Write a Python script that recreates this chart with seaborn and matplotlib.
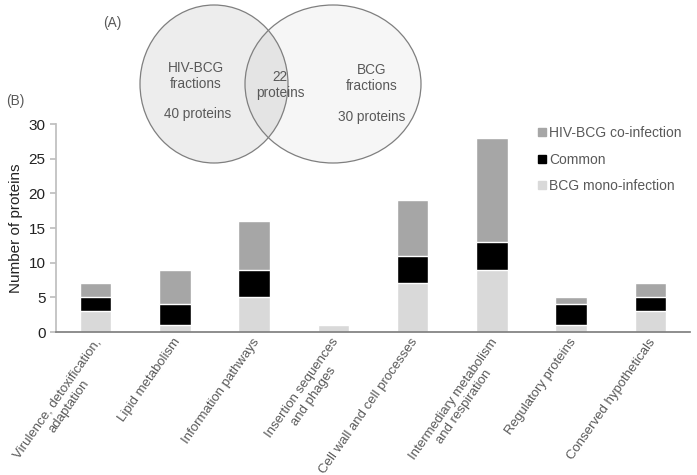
import matplotlib
matplotlib.use("Agg")
import matplotlib.pyplot as plt
import matplotlib.transforms as mtransforms
import seaborn as sns
import numpy as np
import pandas as pd
from matplotlib.patches import Ellipse
from matplotlib.lines import Line2D

categories = ["Virulence, detoxification,\nadaptation", "Lipid metabolism",
              "Information pathways", "Insertion sequences\nand phages",
              "Cell wall and cell processes", "Intermediary metabolism\nand respiration",
              "Regulatory proteins", "Conserved hypotheticals"]
bcg_mono = [3, 1, 5, 1, 7, 9, 1, 3]
common = [2, 3, 4, 0, 4, 4, 3, 2]
hiv_bcg = [2, 5, 7, 0, 8, 15, 1, 2]
series_names = ["HIV-BCG co-infection", "Common", "BCG mono-infection"]
venn_labels = ["HIV-BCG\nfractions", "22\nproteins", "BCG\nfractions"]
venn_counts = ["40 proteins", "30 proteins"]

sns.set_theme(style="white")
plt.rcParams['font.family'] = ['Liberation Sans', 'DejaVu Sans']

c_hiv, c_com, c_bcg = "#a6a6a6", "#000000", "#d9d9d9"
gray = "#595959"

W, H = 697, 475
fig = plt.figure(figsize=(W/100, H/100), dpi=100)
ax = fig.add_axes([56/W, 1-332/H, (690-56)/W, (332-124)/H])

df = pd.DataFrame({"cat": categories, "mono": bcg_mono, "common": common, "hiv": hiv_bcg})
df["c2"] = df["mono"] + df["common"]
df["c3"] = df["c2"] + df["hiv"]

sns.barplot(data=df, x="cat", y="c3", color=c_hiv, width=0.4, ax=ax, saturation=1)
sns.barplot(data=df, x="cat", y="c2", color=c_com, width=0.4, ax=ax, saturation=1)
sns.barplot(data=df, x="cat", y="mono", color=c_bcg, width=0.4, ax=ax, saturation=1)

ax.set_ylim(0, 30)
ax.set_xlim(-0.5, 7.5)
ax.set_yticks(range(0, 31, 5))
ax.set_xlabel("")
ax.set_ylabel("Number of proteins", fontsize=11, color="#222222")
for s in ["top", "right"]:
    ax.spines[s].set_visible(False)
ax.spines["left"].set_color("#bfbfbf")
ax.spines["bottom"].set_color("#808080")
ax.tick_params(axis="y", left=True, length=4, color="#bfbfbf", labelsize=11, labelcolor="#222222")
ax.tick_params(axis="x", bottom=False, length=0, pad=3)
ax.set_xticks(range(len(categories)))
ax.set_xticklabels(categories, rotation=55, ha="right", va="top", rotation_mode="anchor",
                   fontsize=9.5, color=gray, multialignment="center")
off = mtransforms.ScaledTranslation(-2/100, 0, fig.dpi_scale_trans)
for lab in ax.get_xticklabels():
    lab.set_transform(lab.get_transform() + off)

handles = [Line2D([], [], marker="s", ls="", color=c, markersize=5.5) for c in (c_hiv, c_com, c_bcg)]
leg = ax.legend(handles, series_names, loc="upper left", bbox_to_anchor=((524-56)/(690-56), 1.05),
                frameon=False, fontsize=10, labelspacing=0.9, handletextpad=0.1,
                handlelength=0.8, labelcolor=gray)

# Venn overlay
ov = fig.add_axes([0, 0, 1, 1])
ov.set_xlim(0, W)
ov.set_ylim(H, 0)
ov.axis("off")
ov.patch.set_alpha(0)
ov.add_patch(Ellipse((214, 84), 148, 158, facecolor="#ededed", edgecolor="none"))
ov.add_patch(Ellipse((333, 84), 176, 158, facecolor="black", alpha=0.035, edgecolor="none"))
ov.add_patch(Ellipse((214, 84), 148, 158, facecolor="none", edgecolor="#7f7f7f", lw=0.9))
ov.add_patch(Ellipse((333, 84), 176, 158, facecolor="none", edgecolor="#7f7f7f", lw=0.9))
tk = dict(ha="center", va="center", color=gray, fontsize=9.8, linespacing=1.2)
ov.text(196, 76, venn_labels[0], **tk)
ov.text(198, 114, venn_counts[0], **tk)
ov.text(280, 85, venn_labels[1], **tk)
ov.text(372, 78, venn_labels[2], **tk)
ov.text(372, 117, venn_counts[1], **tk)
ov.text(112, 23, "(A)", **tk)
ov.text(15, 101, "(B)", **tk)

fig.savefig("out.png", dpi=100)
